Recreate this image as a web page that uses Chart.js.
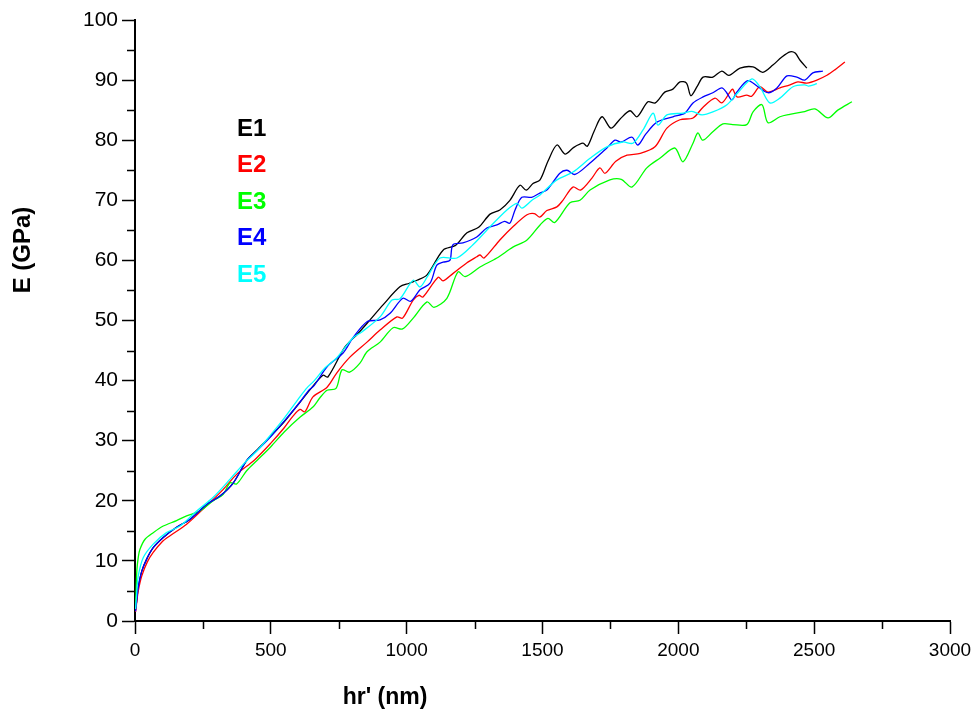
<!DOCTYPE html>
<html>
<head>
<meta charset="utf-8">
<script src="https://cdn.jsdelivr.net/npm/chart.js@4"></script>
<style>
  html, body { margin: 0; padding: 0; background: #fff; }
</style>
</head>
<body>
<canvas id="modulus-chart" width="978" height="713"></canvas>
<script>
// series labels + colours
const seriesNames = ['E1', 'E2', 'E3', 'E4', 'E5'];
const seriesColors = ['#000000', '#ff0000', '#00ff00', '#0000ff', '#00ffff'];

// E1 (black)
const hrE1 = [2, 6, 12, 25, 43, 67, 104, 153, 202, 264,
  313, 362, 411, 450, 500, 550, 607, 650, 692, 710,
  773, 820, 865, 913, 975, 1010, 1038, 1075, 1134, 1180,
  1222, 1265, 1307, 1343, 1380, 1417, 1440, 1465, 1491, 1520,
  1553, 1583, 1615, 1649, 1665, 1690, 1719, 1752, 1785, 1822,
  1848, 1888, 1915, 1950, 1980, 2006, 2030, 2046, 2070, 2091,
  2127, 2160, 2186, 2227, 2275, 2311, 2348, 2380, 2411, 2430,
  2448, 2473];
const eE1 = [1.8, 3.3, 5.6, 8.3, 10.3, 12.2, 13.9, 15.6, 16.9, 19.4,
  20.8, 23, 26.7, 28.5, 30.8, 33.2, 36.4, 38.8, 40.9, 40.6,
  45.6, 47.8, 50.1, 52.6, 55.6, 56.2, 56.7, 57.6, 61.7, 62.5,
  64.6, 65.5, 67.7, 68.4, 70, 72.5, 71.7, 72.8, 73.4, 76.5,
  79.2, 77.7, 78.8, 79.5, 79, 81.5, 83.9, 82, 83.5, 84.9,
  83.9, 86.4, 86.2, 88, 88.5, 89.7, 89.5, 87.4, 89, 90.5,
  90.5, 91.5, 90.8, 92, 92.2, 91.3, 92.5, 93.8, 94.7, 94.5,
  93.3, 92];

// E2 (red)
const hrE2 = [2, 6, 12, 25, 45, 67, 100, 129, 190, 264,
  325, 374, 440, 500, 550, 580, 607, 625, 655, 707,
  743, 791, 854, 902, 964, 985, 1024, 1045, 1060, 1116,
  1134, 1170, 1222, 1258, 1270, 1285, 1343, 1391, 1443, 1470,
  1490, 1516, 1553, 1575, 1612, 1640, 1682, 1711, 1730, 1770,
  1811, 1860, 1914, 1958, 2006, 2054, 2091, 2135, 2160, 2190,
  2200, 2216, 2252, 2270, 2300, 2330, 2374, 2411, 2440, 2473,
  2510, 2547, 2576, 2613];
const eE2 = [1.5, 3, 5, 7.5, 9.8, 11.4, 13.2, 14.2, 16.1, 19.2,
  21.9, 24.4, 26.8, 29.6, 32.2, 34, 35.2, 34.8, 37.3, 38.9,
  41.3, 43.9, 46.4, 48.4, 50.6, 50.4, 53.4, 54.2, 53.9, 57.2,
  56.6, 57.8, 59.6, 60.6, 60.9, 60.4, 63.4, 65.6, 67.6, 67.8,
  67.2, 68.3, 68.9, 70, 72.2, 71.7, 73.7, 75.4, 74.5, 76.5,
  77.5, 77.8, 78.9, 82, 83.4, 83.7, 85.5, 87, 86.2, 88,
  88.5, 87.2, 87.5, 87.3, 88.9, 88, 88.7, 89.2, 89.7, 89.5,
  90, 90.8, 91.7, 93];

// E3 (green)
const hrE3 = [2, 4, 7, 12, 18, 37, 67, 104, 153, 190,
  239, 288, 325, 350, 374, 411, 449, 500, 550, 607,
  655, 680, 707, 740, 762, 790, 828, 854, 902, 950,
  985, 1024, 1075, 1100, 1148, 1189, 1215, 1270, 1332, 1391,
  1443, 1491, 1520, 1545, 1601, 1638, 1675, 1748, 1790, 1829,
  1884, 1932, 1987, 2017, 2054, 2072, 2090, 2127, 2164, 2200,
  2252, 2275, 2308, 2330, 2374, 2410, 2459, 2503, 2551, 2587,
  2639];
const eE3 = [2.2, 5, 8.5, 10.6, 11.9, 13.6, 14.7, 15.8, 16.7, 17.5,
  18.3, 20, 21.1, 23, 22.8, 25, 26.7, 29, 31.5, 33.9,
  35.6, 37.1, 38.4, 38.7, 41.8, 41.4, 42.9, 44.8, 46.4, 48.8,
  48.6, 50.4, 53.1, 52.2, 53.7, 58.1, 57.3, 58.9, 60.4, 62.2,
  63.4, 65.9, 67, 66.3, 69.6, 70, 71.7, 73.4, 73.5, 72.2,
  75.4, 77, 78.7, 76.4, 79.5, 81.2, 80, 81.4, 82.7, 82.6,
  82.6, 84.7, 85.9, 82.9, 83.9, 84.3, 84.7, 85.2, 83.7, 85,
  86.4];

// E4 (blue)
const hrE4 = [2, 6, 12, 25, 43, 67, 104, 153, 202, 264,
  313, 362, 411, 450, 500, 550, 607, 640, 660, 707,
  766, 802, 854, 902, 939, 986, 1015, 1049, 1086, 1111,
  1134, 1159, 1170, 1207, 1258, 1295, 1332, 1360, 1380, 1399,
  1424, 1460, 1490, 1516, 1564, 1590, 1620, 1675, 1700, 1737,
  1767, 1790, 1829, 1851, 1880, 1921, 1980, 2024, 2054, 2091,
  2127, 2160, 2178, 2197, 2215, 2256, 2293, 2330, 2363, 2400,
  2436, 2466, 2495, 2532];
const eE4 = [1.6, 3.3, 5.6, 8.3, 10.3, 12.2, 13.9, 15.6, 16.9, 19.4,
  20.8, 23, 26.7, 28.4, 30.7, 33.3, 36.4, 38.4, 39.2, 42.3,
  44.6, 47.1, 49.8, 50.1, 51.2, 53.7, 53.2, 55.1, 56.2, 59.2,
  59.7, 60, 62.6, 62.9, 63.9, 65.4, 65.9, 66.5, 66.2, 68.4,
  70.5, 70.5, 71.2, 71.7, 74.5, 75, 74.3, 76.2, 77.2, 78.7,
  80, 79.7, 80.5, 79.2, 81, 83, 83.9, 84.5, 86.2, 87.2,
  87.9, 88.7, 87.9, 86.7, 88, 89.9, 88.9, 87.9, 88.7, 90.7,
  90.5, 90, 91.2, 91.5];

// E5 (cyan)
const hrE5 = [2, 6, 12, 31, 67, 116, 166, 227, 288, 350,
  399, 453, 500, 550, 607, 633, 660, 699, 743, 802,
  835, 902, 946, 975, 1024, 1049, 1075, 1123, 1185, 1244,
  1307, 1369, 1406, 1424, 1461, 1491, 1553, 1612, 1675, 1737,
  1796, 1833, 1870, 1907, 1925, 1958, 2017, 2050, 2087, 2127,
  2179, 2219, 2271, 2300, 2337, 2374, 2422, 2466, 2480, 2510];
const eE5 = [2.0, 4.5, 7.5, 10.6, 12.8, 14.7, 15.8, 18.3, 20.6, 23.6,
  26.1, 28.5, 31, 33.8, 37.3, 38.8, 40, 42.1, 43.8, 47.1,
  48.1, 50.6, 53.4, 53.6, 56.7, 55.6, 57.2, 60.4, 60.4, 62.6,
  65.6, 68.4, 69.5, 68.7, 70, 70.9, 73.4, 74.7, 77, 78.9,
  79.7, 79.5, 81.7, 84.5, 82.5, 84.2, 84.5, 84.8, 84.2, 84.7,
  85.9, 87.9, 90.2, 88.9, 86.2, 87, 88.9, 89.2, 89, 89.4];

const hrSeries = [hrE1, hrE2, hrE3, hrE4, hrE5];
const eSeries = [eE1, eE2, eE3, eE4, eE5];

const FONT = "'Liberation Sans', Arial, Helvetica, sans-serif";

const datasets = seriesNames.map((name, i) => ({
  label: name,
  data: hrSeries[i].map((hr, k) => ({ x: hr, y: eSeries[i][k] })),
  borderColor: seriesColors[i],
  backgroundColor: seriesColors[i],
  borderWidth: 1.3,
  pointRadius: 0,
  tension: 0.3,
  fill: false,
  order: 4 - i
}));

// minor ticks, axis titles and the text legend
const overlay = {
  id: 'overlay',
  afterDraw(chart) {
    const ctx = chart.ctx;
    const xs = chart.scales.x;
    const ys = chart.scales.y;
    const area = chart.chartArea;
    ctx.save();
    ctx.strokeStyle = '#000';
    ctx.lineWidth = 1.5;
    ctx.beginPath();
    for (let v = 250; v < 3000; v += 500) {
      const px = Math.round(xs.getPixelForValue(v)) + 0.5;
      ctx.moveTo(px, area.bottom);
      ctx.lineTo(px, area.bottom + 8);
    }
    for (let v = 5; v < 100; v += 10) {
      const py = Math.round(ys.getPixelForValue(v)) + 0.5;
      ctx.moveTo(area.left, py);
      ctx.lineTo(area.left - 8, py);
    }
    ctx.stroke();

    ctx.fillStyle = '#000';
    ctx.textAlign = 'center';
    ctx.textBaseline = 'middle';
    ctx.font = 'bold 23px ' + FONT;
    ctx.fillText("hr' (nm)", 385, 698);
    ctx.save();
    ctx.translate(23, 250);
    ctx.rotate(-Math.PI / 2);
    ctx.font = 'bold 24px ' + FONT;
    ctx.fillText('E (GPa)', 0, 0);
    ctx.restore();

    ctx.textAlign = 'left';
    ctx.font = 'bold 24px ' + FONT;
    seriesNames.forEach((name, i) => {
      ctx.fillStyle = seriesColors[i];
      ctx.fillText(name, 237, 129 + i * 36.5);
    });
    ctx.restore();
  }
};

new Chart(document.getElementById('modulus-chart'), {
  type: 'line',
  data: { datasets: datasets },
  options: {
    responsive: false,
    animation: false,
    layout: { padding: { top: 20, right: 28, left: 0, bottom: 0 } },
    plugins: {
      legend: { display: false },
      tooltip: { enabled: false }
    },
    scales: {
      x: {
        type: 'linear',
        min: 0,
        max: 3000,
        ticks: { stepSize: 500, color: '#000', padding: 5, maxRotation: 0, font: { size: 19, family: FONT },
          callback: v => String(v) },
        grid: { drawOnChartArea: false, tickLength: 13, tickColor: '#000', tickWidth: 1.5 },
        border: { color: '#000', width: 2 },
        afterFit: s => { s.height = 92; }
      },
      y: {
        min: 0,
        max: 100,
        ticks: { stepSize: 10, color: '#000', padding: 4, font: { size: 21, family: FONT },
          callback: v => String(v) },
        grid: { drawOnChartArea: false, tickLength: 13, tickColor: '#000', tickWidth: 1.5 },
        border: { color: '#000', width: 2 },
        afterFit: s => { s.width = 135; }
      }
    }
  },
  plugins: [overlay]
});
</script>
</body>
</html>
